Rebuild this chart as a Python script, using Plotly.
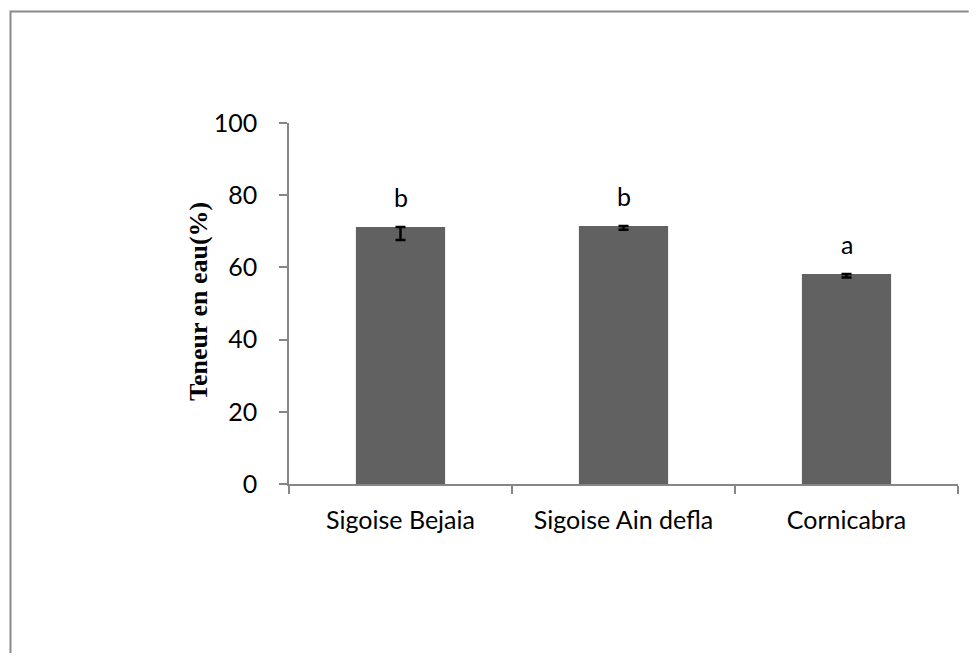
import plotly.graph_objects as go

# Water content per olive variety
varieties = ["Sigoise Bejaia", "Sigoise Ain defla", "Cornicabra"]
water_content = [71.2, 71.5, 58.2]
err_minus = [3.6, 1.1, 1.0]
err_plus = [0.0, 0.0, 0.0]
letters = ["b", "b", "a"]

y_ticks = [0, 20, 40, 60, 80, 100]

AXIS_GRAY = "#868686"
BAR_GRAY = "#616161"
TICK_FONT = dict(family="Lato", size=25, color="#000000")

fig = go.Figure()

fig.add_trace(go.Bar(
    x=varieties,
    y=water_content,
    width=0.4,
    marker=dict(color=BAR_GRAY, line=dict(width=0)),
    error_y=dict(
        type="data",
        symmetric=False,
        array=err_plus,
        arrayminus=err_minus,
        color="#000000",
        thickness=2.5,
        width=5,
    ),
    showlegend=False,
))

# significance letters above each bar
for name, val, letter in zip(varieties, water_content, letters):
    fig.add_annotation(
        x=name, y=val, xref="x", yref="y",
        text=letter, showarrow=False,
        xanchor="center", yanchor="bottom",
        yshift=13,
        font=dict(family="Lato", size=25, color="#000000"),
    )

# rotated y-axis title
fig.add_annotation(
    x=-0.136, y=0.504, xref="paper", yref="paper",
    text="<b>Teneur en eau(%)</b>", showarrow=False,
    textangle=-90, xanchor="center", yanchor="middle",
    font=dict(family="Liberation Serif", size=26, color="#000000"),
)

# chart frame: one open path along the left and top edges
fig.add_shape(
    type="path", xref="paper", yref="paper",
    path="M -0.4163,-0.468 L -0.4163,1.3089 L 1.016,1.3089",
    line=dict(color="#8a8a8a", width=2),
    fillcolor="rgba(0,0,0,0)",
)

fig.update_layout(
    width=976, height=657,
    margin=dict(l=289, r=18, t=123, b=173, pad=0),
    plot_bgcolor="white",
    paper_bgcolor="white",
    bargap=0.6,
    xaxis=dict(
        type="category",
        range=[-0.5, 2.5],
        tickson="boundaries",
        ticks="outside",
        ticklen=8,
        tickwidth=1.5,
        tickcolor=AXIS_GRAY,
        showline=True,
        linecolor=AXIS_GRAY,
        linewidth=1.5,
        showgrid=False,
        zeroline=False,
        tickfont=TICK_FONT,
        ticklabelstandoff=13,
    ),
    yaxis=dict(
        range=[0, 100],
        tickvals=y_ticks,
        ticktext=[str(v) for v in y_ticks],
        ticks="outside",
        ticklen=8,
        tickwidth=1.5,
        tickcolor=AXIS_GRAY,
        showline=True,
        linecolor=AXIS_GRAY,
        linewidth=1.5,
        showgrid=False,
        zeroline=False,
        tickfont=TICK_FONT,
        ticklabelstandoff=17,
    ),
)

fig.write_html("out.html")
